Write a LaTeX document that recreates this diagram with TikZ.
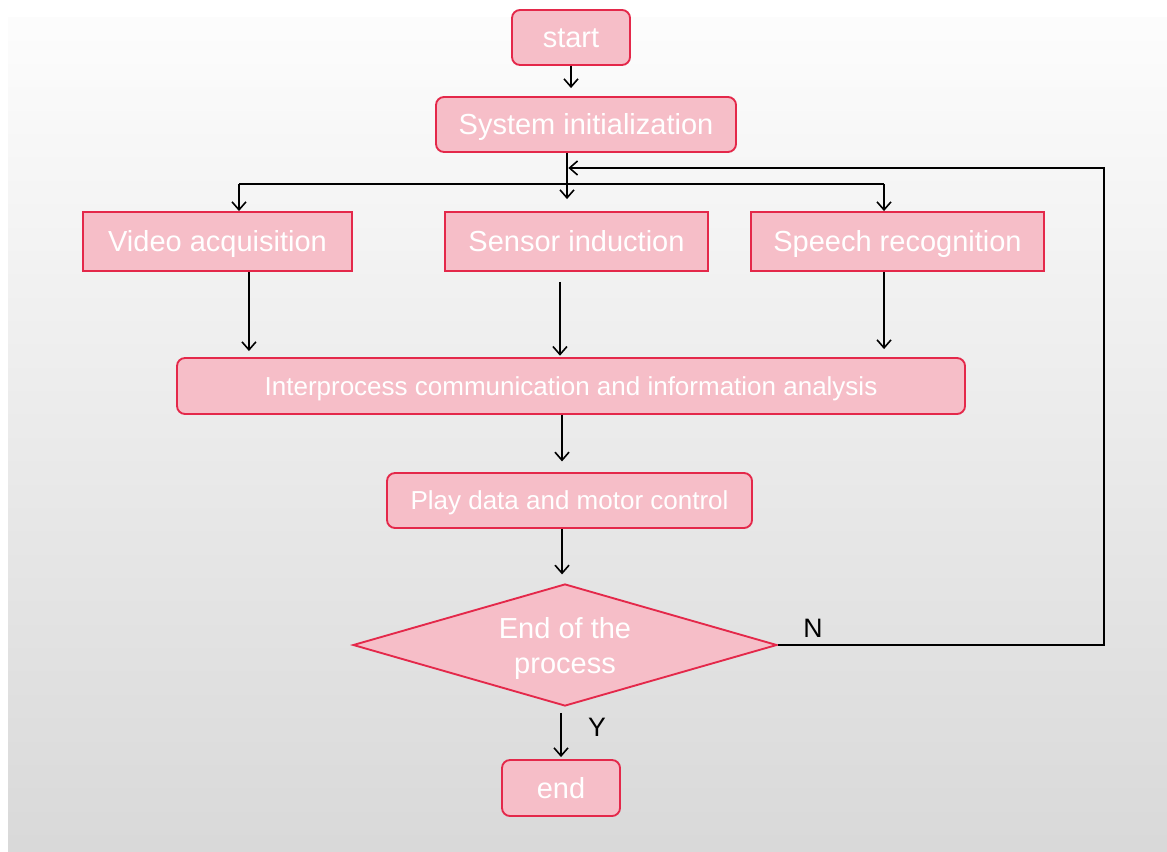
\documentclass[tikz,border=0pt]{standalone}
\usepackage{fontspec}
\setmainfont{Liberation Sans}
\usetikzlibrary{arrows.meta,shapes.geometric}
\definecolor{boxfill}{RGB}{246,190,200}
\definecolor{boxline}{RGB}{228,40,74}
\tikzset{
  box/.style={draw=boxline, fill=boxfill, line width=1.4pt, text=white,
    inner sep=0pt, text height=15.6pt, text depth=0pt,
    font=\fontsize{21.75}{26}\selectfont},
  roundbox/.style={box, rounded corners=6pt},
  smallfont/.style={font=\fontsize{19.5}{24}\selectfont, text height=14pt},
  decision/.style={draw=boxline, fill=boxfill, line width=1.4pt, text=white,
    inner sep=0pt, text depth=0pt, diamond, aspect=3.5, align=center,
    font=\fontsize{21.75}{26.25}\selectfont},
  arr/.style={draw=black, line width=1.2pt,
    -{Straight Barb[length=6pt,width=10.5pt,line width=1.2pt]}},
  link/.style={draw=black, line width=1.2pt},
  lab/.style={text=black, font=\fontsize{20}{24}\selectfont}
}
\begin{document}
\begin{tikzpicture}[x=0.75pt,y=-0.75pt]
  % page and soft grey backdrop
  \fill[white] (0,0) rectangle (1167,852);
  \shade[top color=white!99!black, middle color=black!5, bottom color=black!15]
    (8,18) rectangle (1167,852);
  \useasboundingbox (0,0) rectangle (1167,852);

  % process steps
  \node[roundbox, minimum width=88.5pt, minimum height=41.25pt] (start) at (571,37.5) {start};
  \node[roundbox, minimum width=225pt, minimum height=41.25pt] (init) at (586,124.5) {System initialization};
  \node[box, minimum width=201.75pt, minimum height=44.25pt] (video) at (217.5,241.5) {Video acquisition};
  \node[box, minimum width=197.25pt, minimum height=44.25pt] (sensor) at (576.5,241.5) {Sensor induction};
  \node[box, minimum width=219.75pt, minimum height=44.25pt] (speech) at (897.5,241.5) {Speech recognition};
  \node[roundbox, smallfont, minimum width=591pt, minimum height=42pt] (ipc) at (571,386) {Interprocess communication and information analysis};
  \node[roundbox, smallfont, minimum width=273.75pt, minimum height=41.25pt] (play) at (569.5,500.5) {Play data and motor control};
  \node[decision, minimum width=318pt, minimum height=91.5pt] (dec) at (565,645) {End of the\\process};
  \node[roundbox, minimum width=88.5pt, minimum height=42pt] (end) at (561,788) {end};

  % branch points of the connectors
  \coordinate (split) at (567,184);
  \coordinate (busL) at (239,184);
  \coordinate (busR) at (884,184);
  \coordinate (loopR) at (1104,168);

  % connectors
  \draw[arr, shorten >=6pt] (start.south) -- (start.south |- init.north);
  \draw[arr, shorten >=9pt] (split |- init.south) -- (split |- sensor.north);
  \draw[link] (busL) -- (busR);
  \draw[arr] (busL) -- (busL |- video.north);
  \draw[arr] (busR) -- (busR |- speech.north);

  \draw[arr, shorten >=4.5pt] ([xshift=23.6pt]video.south) -- ([xshift=23.6pt]video.south |- ipc.north);
  \draw[arr, shorten <=7.5pt, shorten >=1pt] ([xshift=-12.4pt]sensor.south) -- ([xshift=-12.4pt]sensor.south |- ipc.north);
  \draw[arr, shorten >=6pt] ([xshift=-10.1pt]speech.south) -- ([xshift=-10.1pt]speech.south |- ipc.north);

  \draw[arr, shorten >=8pt] ([xshift=-6.75pt]ipc.south) -- ([xshift=-6.75pt]ipc.south |- play.north);
  \draw[arr, shorten >=6.5pt] ([xshift=-5.6pt]play.south) -- ([xshift=-5.6pt]play.south |- dec.north);
  \draw[arr, shorten <=4.5pt, shorten >=1.5pt] (end.north |- dec.south) -- (end.north);

  % loop back when the process is not finished
  \draw[arr] (dec.east) -- (loopR |- dec.east) -- (loopR) -- ([xshift=1pt]split |- loopR);

  % branch labels
  \node[lab] (ylab) at (597,727) {Y};
  \node[lab] (nlab) at (813,628) {N};
\end{tikzpicture}
\end{document}
